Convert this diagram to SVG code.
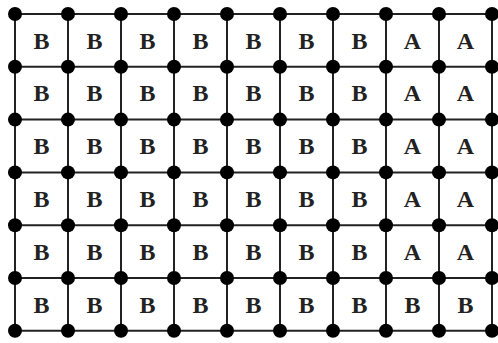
<svg xmlns="http://www.w3.org/2000/svg" width="498" height="343" viewBox="0 0 498 343">
<style>
.g line{stroke:#222;stroke-width:2}
.d circle{fill:#000}
text{font-family:"Liberation Serif","Times New Roman",serif;font-weight:bold;font-size:24px;fill:#222;text-anchor:middle}
</style>
<rect width="498" height="343" fill="#fff"/>
<g id="connectors" class="g">
<line x1="15" y1="14" x2="498" y2="14"/>
<line x1="15" y1="66.8" x2="498" y2="66.8"/>
<line x1="15" y1="119.6" x2="498" y2="119.6"/>
<line x1="15" y1="172.4" x2="498" y2="172.4"/>
<line x1="15" y1="225.2" x2="498" y2="225.2"/>
<line x1="15" y1="278" x2="498" y2="278"/>
<line x1="15" y1="330.8" x2="498" y2="330.8"/>
<line x1="15" y1="14" x2="15" y2="330.8"/>
<line x1="68" y1="14" x2="68" y2="330.8"/>
<line x1="121" y1="14" x2="121" y2="330.8"/>
<line x1="174" y1="14" x2="174" y2="330.8"/>
<line x1="227" y1="14" x2="227" y2="330.8"/>
<line x1="280" y1="14" x2="280" y2="330.8"/>
<line x1="333" y1="14" x2="333" y2="330.8"/>
<line x1="386" y1="14" x2="386" y2="330.8"/>
<line x1="439" y1="14" x2="439" y2="330.8"/>
<line x1="492" y1="14" x2="492" y2="330.8"/>
</g>
<g id="labels">
<g id="r1"><text x="41.5" y="48.5">B</text><text x="94.5" y="48.5">B</text><text x="147.5" y="48.5">B</text><text x="200.5" y="48.5">B</text><text x="253.5" y="48.5">B</text><text x="306.5" y="48.5">B</text><text x="359.5" y="48.5">B</text><text x="412.5" y="48.5">A</text><text x="465.5" y="48.5">A</text></g>
<g id="r2"><text x="41.5" y="101.3">B</text><text x="94.5" y="101.3">B</text><text x="147.5" y="101.3">B</text><text x="200.5" y="101.3">B</text><text x="253.5" y="101.3">B</text><text x="306.5" y="101.3">B</text><text x="359.5" y="101.3">B</text><text x="412.5" y="101.3">A</text><text x="465.5" y="101.3">A</text></g>
<g id="r3"><text x="41.5" y="154.1">B</text><text x="94.5" y="154.1">B</text><text x="147.5" y="154.1">B</text><text x="200.5" y="154.1">B</text><text x="253.5" y="154.1">B</text><text x="306.5" y="154.1">B</text><text x="359.5" y="154.1">B</text><text x="412.5" y="154.1">A</text><text x="465.5" y="154.1">A</text></g>
<g id="r4"><text x="41.5" y="206.9">B</text><text x="94.5" y="206.9">B</text><text x="147.5" y="206.9">B</text><text x="200.5" y="206.9">B</text><text x="253.5" y="206.9">B</text><text x="306.5" y="206.9">B</text><text x="359.5" y="206.9">B</text><text x="412.5" y="206.9">A</text><text x="465.5" y="206.9">A</text></g>
<g id="r5"><text x="41.5" y="259.7">B</text><text x="94.5" y="259.7">B</text><text x="147.5" y="259.7">B</text><text x="200.5" y="259.7">B</text><text x="253.5" y="259.7">B</text><text x="306.5" y="259.7">B</text><text x="359.5" y="259.7">B</text><text x="412.5" y="259.7">A</text><text x="465.5" y="259.7">A</text></g>
<g id="r6"><text x="41.5" y="312.5">B</text><text x="94.5" y="312.5">B</text><text x="147.5" y="312.5">B</text><text x="200.5" y="312.5">B</text><text x="253.5" y="312.5">B</text><text x="306.5" y="312.5">B</text><text x="359.5" y="312.5">B</text><text x="412.5" y="312.5">B</text><text x="465.5" y="312.5">B</text></g>
</g>
<defs><circle id="v" r="7"/></defs>
<g id="vertices" class="d">
<g id="row0"><use href="#v" x="15" y="14"/><use href="#v" x="68" y="14"/><use href="#v" x="121" y="14"/><use href="#v" x="174" y="14"/><use href="#v" x="227" y="14"/><use href="#v" x="280" y="14"/><use href="#v" x="333" y="14"/><use href="#v" x="386" y="14"/><use href="#v" x="439" y="14"/><use href="#v" x="492" y="14"/></g>
<g id="row1"><use href="#v" x="15" y="66.8"/><use href="#v" x="68" y="66.8"/><use href="#v" x="121" y="66.8"/><use href="#v" x="174" y="66.8"/><use href="#v" x="227" y="66.8"/><use href="#v" x="280" y="66.8"/><use href="#v" x="333" y="66.8"/><use href="#v" x="386" y="66.8"/><use href="#v" x="439" y="66.8"/><use href="#v" x="492" y="66.8"/></g>
<g id="row2"><use href="#v" x="15" y="119.6"/><use href="#v" x="68" y="119.6"/><use href="#v" x="121" y="119.6"/><use href="#v" x="174" y="119.6"/><use href="#v" x="227" y="119.6"/><use href="#v" x="280" y="119.6"/><use href="#v" x="333" y="119.6"/><use href="#v" x="386" y="119.6"/><use href="#v" x="439" y="119.6"/><use href="#v" x="492" y="119.6"/></g>
<g id="row3"><use href="#v" x="15" y="172.4"/><use href="#v" x="68" y="172.4"/><use href="#v" x="121" y="172.4"/><use href="#v" x="174" y="172.4"/><use href="#v" x="227" y="172.4"/><use href="#v" x="280" y="172.4"/><use href="#v" x="333" y="172.4"/><use href="#v" x="386" y="172.4"/><use href="#v" x="439" y="172.4"/><use href="#v" x="492" y="172.4"/></g>
<g id="row4"><use href="#v" x="15" y="225.2"/><use href="#v" x="68" y="225.2"/><use href="#v" x="121" y="225.2"/><use href="#v" x="174" y="225.2"/><use href="#v" x="227" y="225.2"/><use href="#v" x="280" y="225.2"/><use href="#v" x="333" y="225.2"/><use href="#v" x="386" y="225.2"/><use href="#v" x="439" y="225.2"/><use href="#v" x="492" y="225.2"/></g>
<g id="row5"><use href="#v" x="15" y="278"/><use href="#v" x="68" y="278"/><use href="#v" x="121" y="278"/><use href="#v" x="174" y="278"/><use href="#v" x="227" y="278"/><use href="#v" x="280" y="278"/><use href="#v" x="333" y="278"/><use href="#v" x="386" y="278"/><use href="#v" x="439" y="278"/><use href="#v" x="492" y="278"/></g>
<g id="row6"><use href="#v" x="15" y="330.8"/><use href="#v" x="68" y="330.8"/><use href="#v" x="121" y="330.8"/><use href="#v" x="174" y="330.8"/><use href="#v" x="227" y="330.8"/><use href="#v" x="280" y="330.8"/><use href="#v" x="333" y="330.8"/><use href="#v" x="386" y="330.8"/><use href="#v" x="439" y="330.8"/><use href="#v" x="492" y="330.8"/></g>
</g>
</svg>
